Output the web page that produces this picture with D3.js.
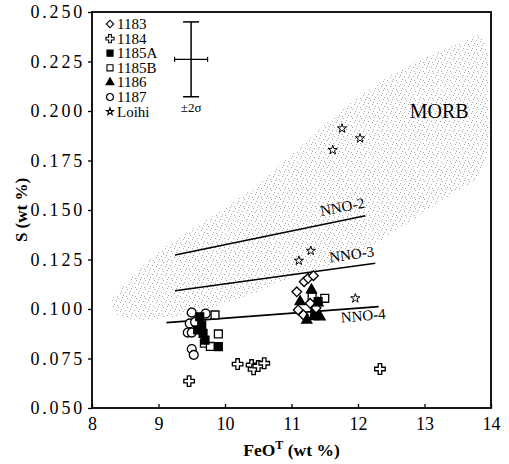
<!DOCTYPE html>
<html>
<head>
<meta charset="utf-8">
<script src="https://cdn.jsdelivr.net/npm/d3@7"></script>
<style>
  body { margin: 0; background: #fff; }
  svg { display: block; font-family: "Liberation Serif", "DejaVu Serif", serif; }
</style>
</head>
<body>
<div id="chart"></div>
<script>
// Axis ticks
const xTicks = [8, 9, 10, 11, 12, 13, 14];
const yTicks = [0.05, 0.075, 0.1, 0.125, 0.15, 0.175, 0.2, 0.225, 0.25];

// Samples, [FeOT, S]
const s1183 = [[11.08, 0.1087], [11.19, 0.1138], [11.25, 0.1155], [11.33, 0.1168],
  [11.10, 0.0995], [11.18, 0.0970], [11.28, 0.1029], [11.37, 0.1005]];
const s1184 = [[9.46, 0.0636], [10.19, 0.0722], [10.40, 0.0717], [10.43, 0.0695],
  [10.50, 0.0712], [10.59, 0.0726], [12.33, 0.0697]];
const s1185A = [[9.62, 0.0961], [9.65, 0.0919], [9.67, 0.0877], [9.70, 0.0843],
  [9.90, 0.0810], [9.59, 0.0894], [11.40, 0.1037], [11.35, 0.0985]];
const s1185B = [[9.85, 0.0970], [9.90, 0.0874], [9.69, 0.0827], [9.78, 0.0811],
  [11.50, 0.1054], [11.31, 0.1061]];
const s1186 = [[11.30, 0.1096], [11.13, 0.1037], [11.33, 0.0961], [11.23, 0.0944],
  [11.40, 0.1030], [11.43, 0.0960]];
const s1187 = [[9.50, 0.0982], [9.47, 0.0927], [9.44, 0.0881], [9.50, 0.0881],
  [9.50, 0.0798], [9.53, 0.0768], [9.71, 0.0977], [9.55, 0.0934]];
const loihi = [[11.76, 0.1912], [12.03, 0.1862], [11.62, 0.1803],
  [11.11, 0.1244], [11.29, 0.1294], [11.96, 0.1054]];

// MORB field outline
const morbField = [[8.3, 0.104], [8.6, 0.116], [8.9, 0.126], [9.3, 0.136], [10.0, 0.151],
  [10.5, 0.163], [11.0, 0.178], [11.5, 0.193], [12.0, 0.207], [12.5, 0.218], [13.0, 0.227],
  [13.5, 0.234], [13.85, 0.238], [13.95, 0.228], [13.97, 0.205], [13.95, 0.180],
  [13.75, 0.165], [13.4, 0.158], [13.0, 0.149], [12.5, 0.138], [12.0, 0.127], [11.5, 0.121],
  [11.0, 0.116], [10.5, 0.109], [10.0, 0.103], [9.5, 0.098], [9.0, 0.095], [8.6, 0.095],
  [8.35, 0.098]];

// Sulfur saturation lines
const nnoLines = [
  { name: "NNO-2", pts: [[9.25, 0.1273], [12.11, 0.1471]] },
  { name: "NNO-3", pts: [[9.25, 0.1092], [12.26, 0.1231]] },
  { name: "NNO-4", pts: [[9.12, 0.0931], [12.31, 0.1012]] },
];

// 2 sigma error bar: centre, half widths
const errBar = { x: 9.49, y: 0.2261, dx: 0.248, dy: 0.0189 };

const width = 509, height = 464;
const margin = { top: 12, right: 18, bottom: 56, left: 92 };

const svg = d3.select("#chart").append("svg")
  .attr("width", width).attr("height", height);

const x = d3.scaleLinear().domain([8, 14]).range([margin.left, width - margin.right]);
const y = d3.scaleLinear().domain([0.05, 0.25]).range([height - margin.bottom, margin.top]);

// stipple for the MORB field
const defs = svg.append("defs");
const pat = defs.append("pattern")
  .attr("id", "stip").attr("patternUnits", "userSpaceOnUse")
  .attr("width", 9).attr("height", 9);
[[1, 1], [5, 0], [8, 4], [3, 5], [6, 7], [0, 8], [4, 3]].forEach(([px, py]) => {
  pat.append("rect").attr("x", px).attr("y", py)
    .attr("width", 1).attr("height", 1).attr("fill", "#a8a8a8");
});

const line = d3.line().x((d) => x(d[0])).y((d) => y(d[1]));

svg.append("path")
  .datum(morbField)
  .attr("d", d3.line().x((d) => x(d[0])).y((d) => y(d[1])).curve(d3.curveCatmullRomClosed))
  .attr("fill", "url(#stip)");

svg.append("text")
  .attr("x", x(13.22)).attr("y", y(0.1965))
  .attr("font-size", 20).attr("text-anchor", "middle")
  .text("MORB");

// NNO lines + labels
nnoLines.forEach((l) => {
  svg.append("path").datum(l.pts).attr("d", line)
    .attr("stroke", "#000").attr("stroke-width", 1.6).attr("fill", "none");
});
const labPos = [
  { n: 0, dx: -22, dy: -4, rot: -11 },
  { n: 1, dx: -23, dy: -4, rot: -8 },
  { n: 2, dx: -15, dy: 14, rot: -5 },
];
labPos.forEach((p) => {
  const e = nnoLines[p.n].pts[1];
  svg.append("text")
    .attr("transform", `translate(${x(e[0]) + p.dx},${y(e[1]) + p.dy}) rotate(${p.rot})`)
    .attr("font-size", 15).attr("text-anchor", "middle")
    .text(nnoLines[p.n].name);
});

// axes
const gx = svg.append("g").attr("transform", `translate(0,${y(0.05)})`)
  .call(d3.axisBottom(x).tickValues(xTicks).tickSize(-4).tickPadding(9).tickFormat(d3.format("d")));
const gy = svg.append("g").attr("transform", `translate(${x(8)},0)`)
  .call(d3.axisLeft(y).tickValues(yTicks).tickSize(4).tickPadding(3).tickFormat(d3.format(".3f")));
[gx, gy].forEach((g) => {
  g.select(".domain").remove();
  g.selectAll("line").attr("stroke-width", 1.3);
  g.selectAll("text").attr("font-family", "Liberation Serif").attr("font-size", 18).attr("fill", "#000");
});
gx.selectAll("text").attr("dy", "0.71em");
gy.selectAll("text").attr("letter-spacing", 2.8);

// frame
svg.append("rect")
  .attr("x", x(8)).attr("y", y(0.25))
  .attr("width", x(14) - x(8)).attr("height", y(0.05) - y(0.25))
  .attr("fill", "none").attr("stroke", "#000").attr("stroke-width", 1.8);

// error bar
const eb = svg.append("g").attr("stroke", "#000").attr("stroke-width", 1.5);
eb.append("line").attr("x1", x(errBar.x)).attr("x2", x(errBar.x))
  .attr("y1", y(errBar.y + errBar.dy)).attr("y2", y(errBar.y - errBar.dy));
eb.append("line").attr("x1", x(errBar.x - errBar.dx)).attr("x2", x(errBar.x + errBar.dx))
  .attr("y1", y(errBar.y)).attr("y2", y(errBar.y)).attr("stroke-width", 1.2);
[errBar.y + errBar.dy, errBar.y - errBar.dy].forEach((v) => {
  eb.append("line").attr("x1", x(errBar.x) - 8).attr("x2", x(errBar.x) + 8)
    .attr("y1", y(v)).attr("y2", y(v));
});
[errBar.x - errBar.dx, errBar.x + errBar.dx].forEach((v) => {
  eb.append("line").attr("x1", x(v)).attr("x2", x(v))
    .attr("y1", y(errBar.y) - 2.5).attr("y2", y(errBar.y) + 2.5).attr("stroke-width", 1.2);
});
svg.append("text").attr("x", x(errBar.x)).attr("y", y(errBar.y - errBar.dy) + 15)
  .attr("font-size", 13).attr("text-anchor", "middle").text("±2σ");

// series
const series = [
  { name: "1183", data: s1183, type: d3.symbolSquare, size: 46, rot: 45, fill: "#fff" },
  { name: "1184", data: s1184, type: d3.symbolCross, size: 62, rot: 0, fill: "#fff" },
  { name: "1185A", data: s1185A, type: d3.symbolSquare, size: 62, rot: 0, fill: "#000" },
  { name: "1185B", data: s1185B, type: d3.symbolSquare, size: 62, rot: 0, fill: "#fff" },
  { name: "1186", data: s1186, type: d3.symbolTriangle, size: 44, rot: 0, fill: "#000" },
  { name: "1187", data: s1187, type: d3.symbolCircle, size: 62, rot: 0, fill: "#fff" },
  { name: "Loihi", data: loihi, type: d3.symbolStar, size: 26, rot: 0, fill: "#fff" },
];

const drawOrder = [6, 1, 5, 3, 2, 0, 4];
drawOrder.forEach((i) => {
  const s = series[i];
  svg.append("g").selectAll("path").data(s.data).join("path")
    .attr("d", d3.symbol(s.type, s.size))
    .attr("transform", (d) => `translate(${x(d[0])},${y(d[1])}) rotate(${s.rot})`)
    .attr("fill", s.fill).attr("stroke", "#000").attr("stroke-width", s.name === "Loihi" ? 1 : 1.3);
});

// legend
const lg = svg.append("g").attr("transform", "translate(110,24)");
series.forEach((s, i) => {
  const row = lg.append("g").attr("transform", `translate(0,${i * 14.6})`);
  row.append("path")
    .attr("d", d3.symbol(s.type, s.size * 0.6))
    .attr("transform", `rotate(${s.rot})`)
    .attr("fill", s.fill).attr("stroke", "#000").attr("stroke-width", 1.1);
  row.append("text").attr("x", 7).attr("y", 5)
    .attr("font-size", 15).text(s.name);
});

// axis titles
svg.append("text")
  .attr("transform", `translate(27,${(y(0.05) + y(0.25)) / 2}) rotate(-90)`)
  .attr("text-anchor", "middle").attr("font-size", 17).attr("font-weight", "bold")
  .text("S (wt %)");

const xt = svg.append("text")
  .attr("x", (x(8) + x(14)) / 2).attr("y", 456)
  .attr("text-anchor", "middle").attr("font-size", 17.5).attr("font-weight", "bold");
xt.append("tspan").text("FeO");
xt.append("tspan").attr("dy", -7).attr("font-size", 12).text("T");
xt.append("tspan").attr("dy", 7).text(" (wt %)");
</script>
</body>
</html>
